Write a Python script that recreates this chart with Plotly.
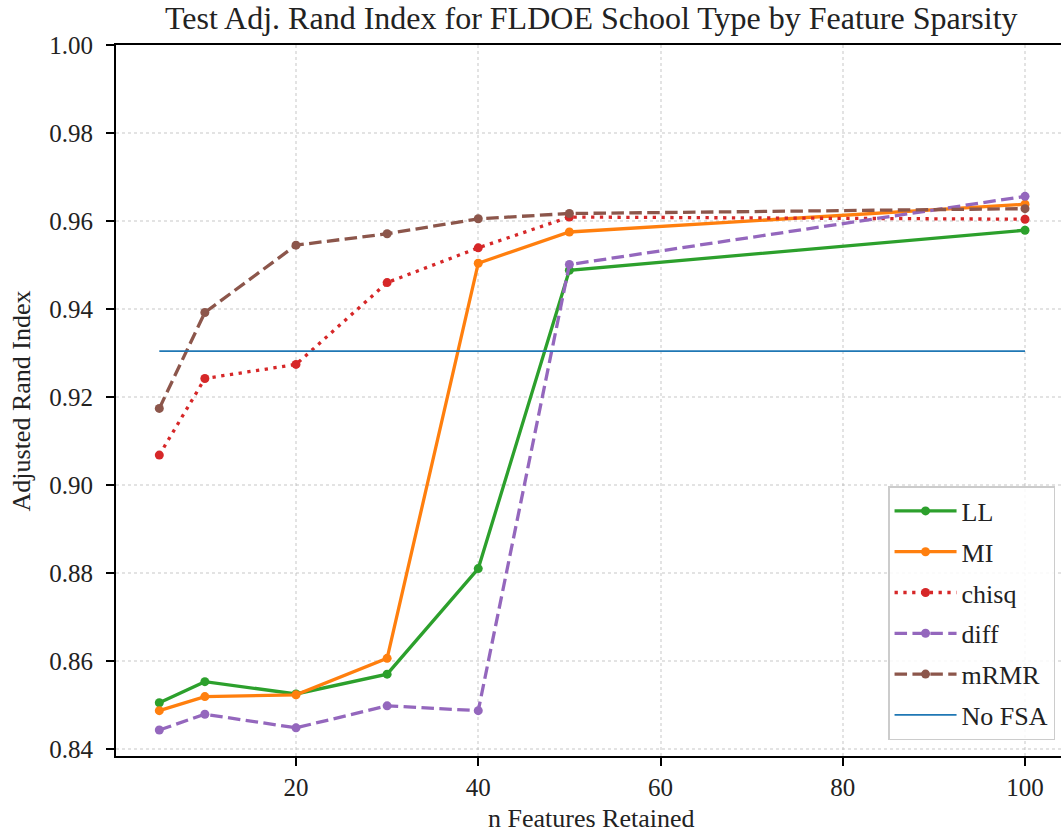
import plotly.graph_objects as go

n_features = [5, 10, 20, 30, 40, 50, 100]
ll_vals = [0.8505, 0.8553, 0.8525, 0.8570, 0.8810, 0.9488, 0.9579]
mi_vals = [0.8487, 0.8519, 0.8523, 0.8606, 0.9504, 0.9575, 0.9638]
chisq_vals = [0.9068, 0.9242, 0.9274, 0.9460, 0.9539, 0.9609, 0.9604]
diff_vals = [0.8443, 0.8479, 0.8448, 0.8498, 0.8487, 0.9501, 0.9656]
mrmr_vals = [0.9174, 0.9392, 0.9545, 0.9571, 0.9605, 0.9617, 0.9628]
no_fsa_x = [5, 100]
no_fsa_vals = [0.9304, 0.9304]

x_ticks = [20, 40, 60, 80, 100]
y_ticks = [0.84, 0.86, 0.88, 0.90, 0.92, 0.94, 0.96, 0.98, 1.00]

FONT = "Liberation Serif, Times New Roman, serif"
LW = 3.3
MS = 9
TICK_SIZE = 25
LABEL_SIZE = 26
TITLE_SIZE = 32

series = [
    ("LL", ll_vals, "#2ca02c", "solid"),
    ("MI", mi_vals, "#ff7f0e", "solid"),
    ("chisq", chisq_vals, "#d62728", "3.3px,5.5px"),
    ("diff", diff_vals, "#9467bd", "12.5px,5.4px"),
    ("mRMR", mrmr_vals, "#8c564b", "12.5px,5.4px"),
]

fig = go.Figure()
for name, vals, color, dash in series:
    fig.add_trace(go.Scatter(
        x=n_features, y=vals, name=name, mode="lines+markers",
        line=dict(color=color, width=LW, dash=dash),
        marker=dict(color=color, size=MS),
        legendgroup=name,
    ))
fig.add_trace(go.Scatter(
    x=no_fsa_x, y=no_fsa_vals, name="No FSA", mode="lines",
    line=dict(color="#1f77b4", width=1.8), legendgroup="nofsa",
))

grid = "rgba(176,176,176,0.35)"
fig.update_layout(
    width=1061, height=837,
    margin=dict(l=116, r=0, t=45, b=81),
    paper_bgcolor="white", plot_bgcolor="white",
    font=dict(family=FONT, size=TICK_SIZE, color="#222"),
    showlegend=True,
    legend=dict(
        x=0.9937, y=0.0225, xanchor="right", yanchor="bottom",
        bgcolor="rgba(255,255,255,0.85)", bordercolor="#cccccc", borderwidth=1.5,
        font=dict(family=FONT, size=LABEL_SIZE, color="#222"),
        tracegroupgap=4, itemwidth=62,
    ),
    xaxis=dict(
        range=[0.247, 103.95], tickvals=x_ticks, ticks="outside", ticklen=8, tickwidth=1.8,
        tickcolor="black", showline=True, linecolor="black", linewidth=1.8, mirror=True,
        showgrid=True, gridcolor=grid, griddash="dot", gridwidth=1.6, zeroline=False,
        tickfont=dict(family=FONT, size=TICK_SIZE, color="#222"),
    ),
    yaxis=dict(
        range=[0.8384, 1.0], tickvals=y_ticks, tickformat=".2f", ticks="outside", ticklen=8,
        tickwidth=1.8, tickcolor="black", showline=True, linecolor="black", linewidth=1.8,
        mirror=False, showgrid=True, gridcolor=grid, griddash="dot", gridwidth=1.6,
        zeroline=False, tickfont=dict(family=FONT, size=TICK_SIZE, color="#222"),
        ticklabelstandoff=8,
    ),
    annotations=[
        dict(text="Test Adj. Rand Index for FLDOE School Type by Feature Sparsity",
             xref="paper", yref="paper", x=0.5037, y=1.0386, xanchor="center", yanchor="middle",
             showarrow=False, font=dict(family=FONT, size=TITLE_SIZE, color="#222")),
        dict(text="n Features Retained", xref="paper", yref="paper", x=0.5037, y=-0.0878,
             xanchor="center", yanchor="middle", showarrow=False,
             font=dict(family=FONT, size=LABEL_SIZE, color="#222")),
        dict(text="Adjusted Rand Index", xref="paper", yref="paper", x=-0.0995, y=0.5,
             xanchor="center", yanchor="middle", textangle=-90, showarrow=False,
             font=dict(family=FONT, size=LABEL_SIZE, color="#222")),
    ],
)

fig.write_html("out.html")
